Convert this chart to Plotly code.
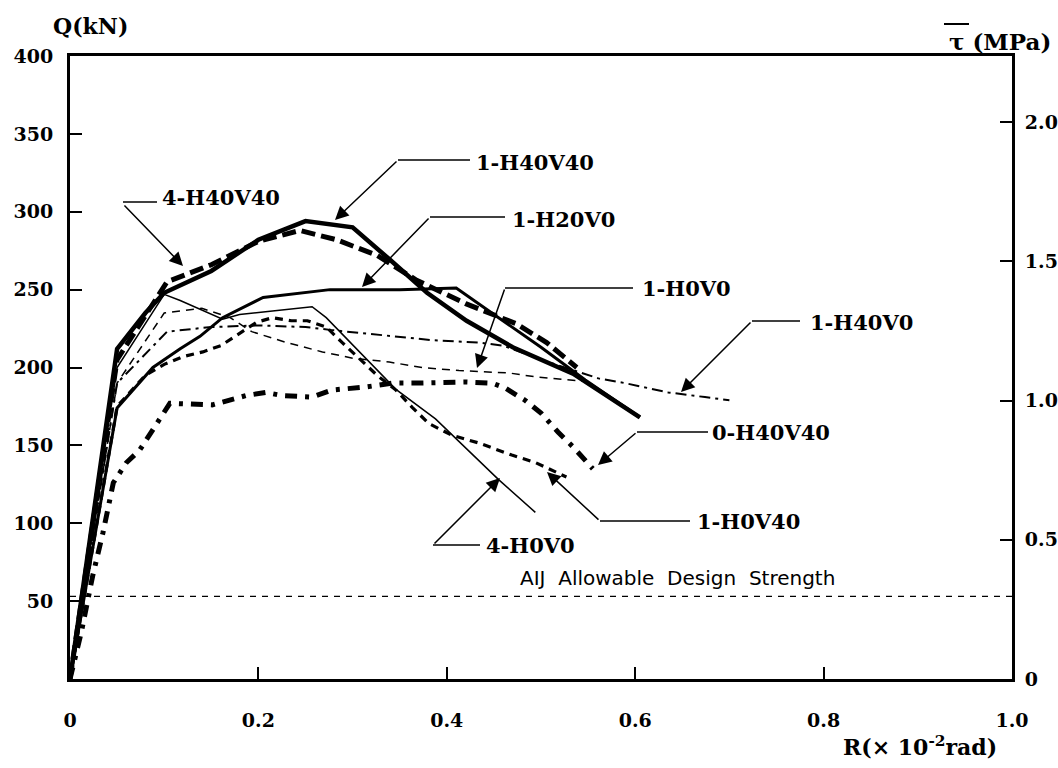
import plotly.graph_objects as go

# ---------------- data (R in 1e-2 rad, Q in kN) ----------------
r_1H40V40 = [0, 0.05, 0.08, 0.10, 0.15, 0.20, 0.25, 0.30, 0.34, 0.379, 0.421, 0.47, 0.534, 0.605]
q_1H40V40 = [0, 212, 235, 248, 262, 282, 294, 290, 269, 248, 230, 213, 196, 168]

r_4H40V40 = [0, 0.05, 0.103, 0.15, 0.20, 0.244, 0.283, 0.326, 0.368, 0.42, 0.474, 0.506, 0.538]
q_4H40V40 = [0, 205, 255, 266, 281, 288, 282, 272, 256, 241, 228, 216, 200]

r_1H20V0 = [0, 0.05, 0.088, 0.117, 0.138, 0.162, 0.205, 0.276, 0.35, 0.41, 0.455, 0.50, 0.547, 0.605]
q_1H20V0 = [0, 174, 200, 212, 220, 232, 245, 250, 250, 251, 232, 213, 192, 168]

r_1H0V0 = [0, 0.05, 0.10, 0.14, 0.17, 0.193, 0.23, 0.268, 0.30, 0.339, 0.374, 0.413, 0.466, 0.494, 0.55]
q_1H0V0 = [0, 190, 235, 238, 232, 223, 216, 210, 206, 203.5, 200, 198, 196.5, 194, 191]

r_1H40V0 = [0, 0.05, 0.103, 0.15, 0.20, 0.25, 0.278, 0.328, 0.384, 0.434, 0.46, 0.50, 0.561, 0.589, 0.635, 0.674, 0.70]
q_1H40V0 = [0, 190, 223, 226, 227, 226, 224, 221, 217.6, 216, 214, 205, 193, 190, 184, 181, 179]

r_0H40V40 = [0, 0.012, 0.024, 0.035, 0.046, 0.06, 0.074, 0.088, 0.106, 0.151, 0.187, 0.208, 0.225,
             0.257, 0.278, 0.314, 0.342, 0.367, 0.42, 0.448, 0.462, 0.483, 0.50, 0.518, 0.534, 0.555]
q_0H40V40 = [0, 30, 66, 94, 126, 139, 147, 160, 177, 176, 182, 184, 182,
             181, 185.5, 187.5, 190, 190, 190.7, 190, 186.8, 179, 170.8, 158.6, 149, 135]

r_1H0V40 = [0, 0.05, 0.08, 0.10, 0.12, 0.141, 0.16, 0.18, 0.198, 0.215, 0.235, 0.252, 0.272, 0.289,
            0.307, 0.326, 0.346, 0.363, 0.381, 0.405, 0.434, 0.469, 0.494, 0.511, 0.527]
q_1H0V40 = [0, 175, 195, 202, 207, 210, 214, 222, 229, 232, 230, 230, 226, 216,
            206, 195, 185.5, 174.6, 164, 156.6, 151.5, 143.8, 139, 134, 129.7]

r_4H0V0 = [0, 0.05, 0.10, 0.117, 0.162, 0.18, 0.21, 0.257, 0.272, 0.314, 0.346, 0.388, 0.455, 0.494]
q_4H0V0 = [0, 200, 247, 243, 231, 234, 236, 239, 232, 206, 186, 167, 128, 107]

r_AIJ = [0, 1.0]
q_AIJ = [53, 53]

x_ticks = [0, 0.2, 0.4, 0.6, 0.8, 1.0]
x_ticktext = ["0", "0.2", "0.4", "0.6", "0.8", "1.0"]
y_ticks = [50, 100, 150, 200, 250, 300, 350, 400]
tau_ticks = [0, 0.5, 1.0, 1.5, 2.0]
tau_ticktext = ["0", "0.5", "1.0", "1.5", "2.0"]

# ---------------- layout geometry ----------------
W, H = 1058, 768
PL, PR, PT, PB = 70, 1012, 56, 679
XMAX, YMAX = 1.0, 400.0
TAUMAX = 2.237


def px2x(px):
    return (px - PL) / (PR - PL) * XMAX


def px2y(py):
    return (PB - py) / (PB - PT) * YMAX


def px2px(px):
    return (px - PL) / (PR - PL)


def py2py(py):
    return (PB - py) / (PB - PT)


fig = go.Figure()

series = [
    (r_1H40V40, q_1H40V40, 4.5, "solid"),
    (r_4H40V40, q_4H40V40, 5, "14px,6px"),
    (r_1H20V0, q_1H20V0, 3, "solid"),
    (r_1H0V0, q_1H0V0, 1.5, "8px,6px"),
    (r_1H40V0, q_1H40V0, 2, "11px,5px,3px,5px"),
    (r_0H40V40, q_0H40V40, 5, "12px,8px,4px,8px"),
    (r_1H0V40, q_1H0V40, 3.2, "8px,6px"),
    (r_4H0V0, q_4H0V0, 1.5, "solid"),
    (r_AIJ, q_AIJ, 1.2, "6px,6px"),
]
for xs, ys, w, d in series:
    fig.add_trace(go.Scatter(x=xs, y=ys, mode="lines",
                             line=dict(color="black", width=w, dash=d),
                             showlegend=False, hoverinfo="skip"))

# dummy trace for right axis
fig.add_trace(go.Scatter(x=[None], y=[None], yaxis="y2", showlegend=False))

lab_font = dict(family="DejaVu Serif", size=21, color="black", weight="bold")
title_font = dict(family="DejaVu Serif", size=22, color="black", weight="bold")
tick_font = dict(family="DejaVu Serif", size=19, color="black", weight="bold")

# labels: (text, text_center_px, horiz segment (x0,x1,y) px, arrow tail px, arrow tip px)
labels = [
    ("4-H40V40", (221, 197), (123, 157, 202), (123, 204), (183, 266)),
    ("1-H40V40", (535, 162), (398, 470, 160), (398, 160), (335, 220)),
    ("1-H20V0", (563, 219), (430, 505, 217), (430, 217), (362, 287)),
    ("1-H0V0", (686, 288), (505, 633, 288), (505, 288), (477, 368)),
    ("1-H40V0", (861, 322), (752, 800, 321), (752, 321), (681, 392)),
    ("0-H40V40", (771, 432), (637, 708, 432), (637, 432), (598, 465)),
    ("1-H0V40", (748, 521), (600, 690, 521), (600, 521), (547, 472)),
    ("4-H0V0", (530, 545), (433, 480, 545), (433, 545), (500, 478)),
]

annotations = []
shapes = []
for text, (tx, ty), (hx0, hx1, hy), (ax, ay), (tipx, tipy) in labels:
    annotations.append(dict(x=px2x(tx), y=px2y(ty), xref="x", yref="y", text=text,
                            showarrow=False, font=lab_font, xanchor="center", yanchor="middle"))
    shapes.append(dict(type="line", xref="x", yref="y", x0=px2x(hx0), x1=px2x(hx1),
                       y0=px2y(hy), y1=px2y(hy), line=dict(color="black", width=1.5)))
    annotations.append(dict(x=px2x(tipx), y=px2y(tipy), xref="x", yref="y",
                            ax=px2x(ax), ay=px2y(ay), axref="x", ayref="y", text="",
                            showarrow=True, arrowhead=2, arrowsize=1.8, arrowwidth=1.5,
                            arrowcolor="black", standoff=0))

annotations.append(dict(x=px2x(677), y=px2y(578), xref="x", yref="y",
                        text="AIJ  Allowable  Design  Strength", showarrow=False,
                        font=dict(family="DejaVu Sans", size=20, color="black"),
                        xanchor="center", yanchor="middle"))

# axis titles
annotations.append(dict(x=px2px(90), y=py2py(26), xref="paper", yref="paper", text="Q(kN)",
                        showarrow=False, font=title_font, xanchor="center", yanchor="middle"))
annotations.append(dict(x=px2px(1000), y=py2py(41), xref="paper", yref="paper", text="τ (MPa)",
                        showarrow=False,
                        font=dict(family="DejaVu Serif", size=23, color="black", weight="bold"),
                        xanchor="center", yanchor="middle"))
annotations.append(dict(x=px2px(920), y=py2py(746), xref="paper", yref="paper",
                        text="R(× 10<sup>-2</sup>rad)",
                        showarrow=False, font=title_font, xanchor="center", yanchor="middle"))
# overline above tau
shapes.append(dict(type="line", xref="paper", yref="paper", x0=px2px(944), x1=px2px(969),
                   y0=py2py(24), y1=py2py(24), line=dict(color="black", width=2)))

fig.update_layout(
    width=W, height=H,
    margin=dict(l=PL, r=W - PR, t=PT, b=H - PB, pad=0, autoexpand=False),
    paper_bgcolor="white", plot_bgcolor="white",
    showlegend=False,
    xaxis=dict(range=[0, XMAX], tickvals=x_ticks, ticktext=x_ticktext, ticks="inside",
               ticklen=12, tickwidth=1.5, tickcolor="black", showline=True, linewidth=3,
               linecolor="black", mirror=True, showgrid=False, zeroline=False,
               tickfont=tick_font, ticklabelstandoff=22, automargin=False),
    yaxis=dict(range=[0, YMAX], tickvals=y_ticks, ticks="inside", ticklen=12, tickwidth=1.5,
               tickcolor="black", showline=True, linewidth=3, linecolor="black",
               showgrid=False, zeroline=False, tickfont=tick_font, ticklabelstandoff=10,
               automargin=False),
    yaxis2=dict(range=[0, TAUMAX], tickvals=tau_ticks, ticktext=tau_ticktext, overlaying="y",
                side="right", ticks="inside", ticklen=12, tickwidth=1.5, tickcolor="black",
                showline=True, linewidth=3, linecolor="black", showgrid=False, zeroline=False,
                tickfont=tick_font, ticklabelstandoff=6, automargin=False),
    annotations=annotations,
    shapes=shapes,
)

fig.write_html("out.html")
